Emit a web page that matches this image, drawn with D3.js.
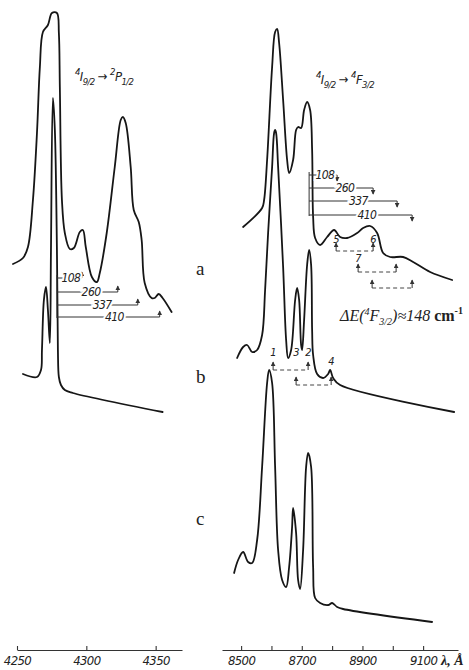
<!DOCTYPE html>
<html>
<head>
<meta charset="utf-8">
<script src="https://cdn.jsdelivr.net/npm/d3@7"></script>
<style>
  body { margin: 0; background: #fff; }
  svg { display: block; }
  .spec { fill: none; stroke: #161616; stroke-width: 1.8; stroke-linejoin: round; stroke-linecap: round; }
  .ann { fill: none; stroke: #333; stroke-width: 1; }
  .dash { fill: none; stroke: #444; stroke-width: 1; stroke-dasharray: 4 3; }
  .num { font-family: "Liberation Sans Narrow", "DejaVu Sans Condensed", "Liberation Sans", sans-serif;
         font-style: italic; font-stretch: condensed; letter-spacing: -0.6px; fill: #222; }
  .halo { paint-order: stroke; stroke: #fff; stroke-width: 4px; }
  .serif { font-family: "Liberation Serif", "DejaVu Serif", serif; fill: #222; }
  .axis path, .axis line { stroke: #333; stroke-width: 1.1; }
</style>
</head>
<body>
<div id="chart"></div>
<script>
// wavelength ticks (Angstrom)
const blueTicks = [4250, 4300, 4350]
const nirTicks = [8500, 8600, 8700, 8800, 8900, 9000, 9100]
const nirLabelled = [8500, 8700, 8900, 9100]

// spectra: [wavelength, intensity (arb. units, curves offset vertically)]
const blueA = [[4247.1,38.6],[4254.3,39.2],[4257.9,40.3],[4261.5,45.0],[4264.4,51.7],[4266.5,58.3],
  [4268.7,61.8],[4272.3,62.5],[4275.2,63.7],[4278.8,63.7],[4280.2,61.7],[4280.9,56.3],[4282.4,45.0],
  [4284.5,41.7],[4288.1,40.1],[4291.0,40.2],[4295.3,41.8],[4297.5,42.0],[4299.6,40.3],[4304.0,37.3],
  [4307.6,36.8],[4309.7,37.7],[4314.7,41.7],[4320.5,48.3],[4324.8,53.0],[4326.3,53.3],[4328.4,52.7],
  [4332.0,48.3],[4334.2,44.0],[4337.8,42.8],[4339.9,41.0],[4342.1,36.7],[4347.1,35.2],[4349.3,35.2],
  [4352.2,35.6],[4355.0,35.2],[4361.5,33.8]]
const blueB = [[4254.3,27.6],[4264.4,27.3],[4267.3,28.0],[4268.0,30.0],[4269.4,35.0],[4270.9,36.3],
  [4272.3,34.0],[4273.7,30.7],[4274.5,40.0],[4275.9,55.2],[4277.3,52.0],[4278.8,40.0],[4279.5,30.0],
  [4280.2,27.3],[4281.7,26.5],[4284.5,26.0],[4290.3,25.7],[4355.0,23.8]]
const nirA = [[8506.6,42.3],[8569.2,44.2],[8575.8,45.0],[8585.7,49.0],[8602.2,58.3],[8612.1,61.8],
  [8618.7,62.1],[8625.3,60.7],[8638.5,55.0],[8651.7,49.0],[8658.3,47.7],[8671.4,49.0],[8681.3,52.0],
  [8687.9,52.3],[8697.8,52.2],[8707.7,54.0],[8717.6,54.8],[8727.5,54.0],[8734.1,50.0],[8737.4,43.3],
  [8744.0,41.2],[8760.5,40.5],[8783.5,41.3],[8806.6,42.0],[8826.4,41.3],[8849.5,41.2],[8882.5,41.7],
  [8902.2,42.2],[8925.3,42.4],[8948.4,41.7],[8968.2,39.7],[8991.3,39.3],[9034.1,39.3],[9067.1,38.8],
  [9123.1,37.8],[9195.7,37.0]]
const nirB = [[8486.8,29.2],[8506.6,30.3],[8519.8,30.5],[8536.3,29.8],[8552.8,30.0],[8569.2,31.5],
  [8579.1,36.0],[8589.0,41.7],[8602.2,48.3],[8608.8,51.7],[8612.1,52.0],[8615.4,51.7],[8622.0,48.3],
  [8638.5,38.3],[8648.4,31.0],[8655.0,29.2],[8664.9,30.0],[8678.1,35.0],[8684.7,36.2],[8691.3,35.0],
  [8697.8,30.5],[8701.1,30.0],[8707.7,33.0],[8717.6,38.5],[8724.2,40.0],[8730.8,38.5],[8734.1,32.0],
  [8737.4,29.5],[8750.6,27.6],[8770.4,27.2],[8786.9,27.6],[8793.5,28.0],[8803.4,27.2],[8826.4,26.5],
  [9202.3,23.8]]
const nirC = [[8476.9,7.7],[8490.1,9.0],[8506.6,9.8],[8523.1,8.8],[8536.3,8.7],[8552.8,11.0],
  [8569.2,18.3],[8585.7,26.7],[8592.3,28.0],[8602.2,26.7],[8612.1,18.3],[8622.0,10.0],[8635.2,7.0],
  [8648.4,6.3],[8658.3,8.3],[8668.1,12.3],[8671.4,14.2],[8681.3,11.7],[8687.9,7.0],[8694.5,6.1],
  [8704.4,10.0],[8714.3,18.3],[8720.9,19.7],[8730.8,18.3],[8737.4,8.3],[8744.0,5.2],[8760.5,4.7],
  [8786.9,4.5],[8800.1,4.7],[8816.5,4.3],[8836.3,4.1],[9129.7,2.8]]

// Stark splitting arrows (cm-1)
const shiftLabels = ["108", "260", "337", "410"]
const blueShiftBase = 4278.8
const blueShiftTips = [4296.8, 4322.7, 4337.1, 4352.9]
const blueShiftLevels = [37.2, 35.8, 34.5, 33.3]
const nirShiftBase = 8724.2
const nirShiftTips = [8816.5, 8935.2, 9014.3, 9063.8]
const nirShiftLevels = [47.5, 46.2, 44.9, 43.5]

// numbered lines and the dashed spacing pairs
const peakNames = ["1", "3", "2", "4", "5", "6", "7"]
const peakPos = [8605.5, 8681.3, 8720.9, 8796.8, 8813.2, 8935.2, 8885.7]
const peakLevel = [29.8, 29.8, 29.8, 28.9, 41.1, 41.1, 39.2]
const pairFrom = [8605.5, 8681.3, 8813.2, 8885.7, 8931.9]
const pairTo = [8720.9, 8796.8, 8935.2, 9011.0, 9063.8]
const pairLevel = [28.0, 26.5, 39.9, 37.8, 36.2]

const W = 469, H = 670
const svg = d3.select("#chart").append("svg").attr("width", W).attr("height", H)

svg.append("defs").append("marker")
  .attr("id", "tip").attr("viewBox", "0 0 8 8").attr("refX", 7).attr("refY", 4)
  .attr("markerWidth", 5).attr("markerHeight", 5).attr("markerUnits", "userSpaceOnUse")
  .attr("orient", "auto")
  .append("path").attr("d", "M0,0L8,4L0,8Z").attr("fill", "#333")

const xBlue = d3.scaleLinear().domain([4250, 4369]).range([17, 182])
const xNir = d3.scaleLinear().domain([8437, 9215]).range([222, 458])
const y = d3.scaleLinear().domain([0, 65]).range([650, 0])

function spectrum(x, data) {
  svg.append("path").datum(data).attr("class", "spec")
    .attr("d", d3.line().x(d => x(d[0])).y(d => y(d[1])).curve(d3.curveCatmullRom.alpha(0.5)))
}
spectrum(xBlue, blueA)
spectrum(xBlue, blueB)
spectrum(xNir, nirA)
spectrum(xNir, nirB)
spectrum(xNir, nirC)

// arrows from the main line to the ground-state sublevels
function shifts(x, base, tips, levels, dir) {
  const g = svg.append("g")
  const x0 = x(base)
  g.append("line").attr("class", "ann")
    .attr("x1", x0).attr("x2", x0)
    .attr("y1", y(levels[0] + 0.3)).attr("y2", y(levels[levels.length - 1] - 0.1))
  tips.forEach((t, i) => {
    const yy = y(levels[i]), x1 = x(t)
    g.append("path").attr("class", "ann")
      .attr("d", `M${x0},${yy}H${x1}v${dir * 6}`)
      .attr("marker-end", "url(#tip)")
    g.append("text").attr("class", "num halo")
      .attr("x", x0 + (x1 - x0) * 0.56).attr("y", yy).attr("dy", "0.35em")
      .attr("text-anchor", "middle").style("font-size", "12px")
      .text(shiftLabels[i])
  })
}
shifts(xBlue, blueShiftBase, blueShiftTips, blueShiftLevels, -1)
shifts(xNir, nirShiftBase, nirShiftTips, nirShiftLevels, 1)

// dashed spacing pairs
pairFrom.forEach((f, i) => {
  const yy = y(pairLevel[i])
  svg.append("line").attr("class", "dash")
    .attr("x1", xNir(f)).attr("x2", xNir(pairTo[i])).attr("y1", yy).attr("y2", yy)
  ;[f, pairTo[i]].forEach(p => {
    svg.append("path").attr("class", "ann")
      .attr("d", `M${xNir(p)},${yy}v-8`).attr("marker-end", "url(#tip)")
  })
})
peakNames.forEach((n, i) => {
  svg.append("text").attr("class", "num")
    .attr("x", xNir(peakPos[i])).attr("y", y(peakLevel[i])).attr("dy", "0.35em")
    .attr("text-anchor", "middle").style("font-size", "11px").text(n)
})

// axes
svg.append("g").attr("class", "axis").attr("transform", "translate(0,650)")
  .call(d3.axisBottom(xBlue).tickValues(blueTicks).tickFormat(d3.format("d"))
    .tickSizeInner(-4).tickSizeOuter(0).tickPadding(6))
svg.append("g").attr("class", "axis").attr("transform", "translate(0,650)")
  .call(d3.axisBottom(xNir).tickValues(nirTicks)
    .tickFormat(d => nirLabelled.includes(d) ? d : "")
    .tickSizeInner(-4).tickSizeOuter(0).tickPadding(6))
svg.selectAll(".axis text").attr("class", "num").style("font-size", "13px")
  .attr("font-family", null).attr("fill", "#333")

svg.append("text").attr("class", "serif").attr("x", 441).attr("y", 665)
  .style("font-size", "14px").style("font-style", "italic").style("font-weight", "bold")
  .text("λ, Å")

// panel letters
const letters = [["a", 38.2], ["b", 27.4], ["c", 13.2]]
letters.forEach(l => {
  svg.append("text").attr("class", "serif").attr("x", 196).attr("y", y(l[1])).attr("dy", "0.35em")
    .style("font-size", "19px").text(l[0])
})

// transition labels
function term(x, yb, parts) {
  const t = svg.append("text").attr("class", "num").attr("x", x).attr("y", yb).style("font-size", "13px")
  let cur = 0
  parts.forEach(p => {
    const shift = p[1] === "sup" ? -6 : p[1] === "sub" ? 4 : 0
    t.append("tspan").attr("dy", shift - cur)
      .style("font-size", p[1] ? "9.5px" : "13px").text(p[0])
    cur = shift
  })
}
term(75, 81, [["4", "sup"], ["I", null], ["9/2", "sub"], [" → ", null], ["2", "sup"], ["P", null], ["1/2", "sub"]])
term(316, 84, [["4", "sup"], ["I", null], ["9/2", "sub"], [" → ", null], ["4", "sup"], ["F", null], ["3/2", "sub"]])

const dE = svg.append("text").attr("class", "serif").attr("x", 340).attr("y", 321).style("font-size", "16px")
dE.append("tspan").style("font-style", "italic").text("ΔE(")
dE.append("tspan").attr("dy", -6).style("font-size", "10px").style("font-style", "italic").text("4")
dE.append("tspan").attr("dy", 6).style("font-style", "italic").text("F")
dE.append("tspan").attr("dy", 4).style("font-size", "10px").style("font-style", "italic").text("3/2")
dE.append("tspan").attr("dy", -4).style("font-style", "italic").text(")≈148 ")
dE.append("tspan").style("font-weight", "bold").text("cm")
dE.append("tspan").attr("dy", -7).style("font-size", "10px").style("font-weight", "bold").text("-1")
</script>
</body>
</html>
